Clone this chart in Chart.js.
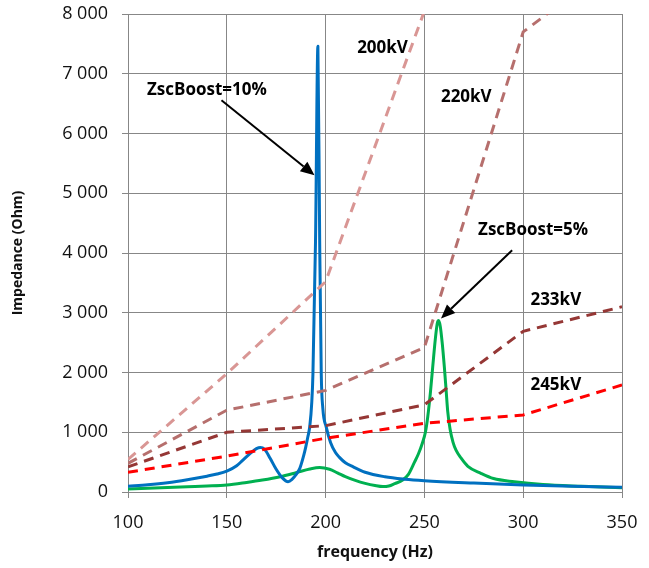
<!DOCTYPE html>
<html>
<head>
<meta charset="utf-8">
<script src="https://cdn.jsdelivr.net/npm/chart.js@4.4.1/dist/chart.umd.min.js"></script>
<style>
  html, body { margin: 0; padding: 0; background: #fff; }
  #wrap { width: 649px; height: 568px; }
</style>
</head>
<body>
<div id="wrap"><canvas id="impChart" width="649" height="568"></canvas></div>
<script>
// Frequency scan: impedance vs frequency

// ZscBoost=10% curve
const blueFreq = [100, 110, 120, 130, 140, 145, 150, 155, 158, 162, 165, 167, 169, 172, 175, 178, 181, 183, 185, 187, 189, 190, 191, 192, 193, 193.6, 194.9, 196.1, 197, 197.8, 198.6, 200.3, 202.5, 205, 207, 210, 214, 220, 230, 240, 250, 275, 300, 325, 350];
const blueImp = [95, 120, 155, 205, 265, 300, 350, 440, 530, 650, 725, 745, 720, 560, 380, 240, 172, 210, 290, 400, 620, 760, 920, 1100, 1500, 1985, 4200, 7460, 4210, 1985, 1400, 1090, 830, 660, 580, 490, 420, 330, 255, 215, 190, 150, 117, 95, 80];

// ZscBoost=5% curve
const greenFreq = [100, 110, 120, 130, 140, 150, 160, 168, 177, 185, 192, 197, 202, 206, 210, 215, 220, 225, 229, 232, 235, 239, 242, 245, 247, 249, 250.5, 251.7, 253, 254.2, 255.5, 256.5, 257.2, 258, 259, 260.1, 261, 261.8, 263, 264.5, 266, 268.5, 272, 278.6, 285, 295.5, 310, 330, 350];
const greenImp = [50, 62, 75, 88, 100, 117, 160, 200, 256, 323, 385, 410, 380, 320, 256, 195, 145, 108, 90, 100, 140, 200, 300, 500, 640, 820, 1000, 1260, 1650, 2090, 2550, 2820, 2870, 2780, 2500, 2090, 1700, 1350, 1050, 830, 700, 570, 430, 313, 225, 172, 125, 95, 70];

// voltage level lines (every 50 Hz)
const kvFreq = [100, 150, 200, 250, 300, 350];
const kv200 = [545, 1980, 3520, 8050];
const kv220 = [480, 1370, 1700, 2420, 7700, 8950];
const kv233 = [420, 1000, 1110, 1460, 2690, 3100];
const kv245 = [330, 600, 900, 1150, 1290, 1790];

const yTicks = [0, 1000, 2000, 3000, 4000, 5000, 6000, 7000, 8000];

function toPoints(xs, ys) {
    return ys.map((y, i) => ({ x: xs[i], y: y }));
}

function fmtThousands(v) {
    return String(v).replace(/\B(?=(\d{3})+(?!\d))/g, ' ');
}

const GRID = '#878787';
const LABEL_FONT = 'bold 17px "Open Sans", sans-serif';

// text labels + arrows, placed in data coordinates
const notes = [
    { text: '200kV', x: 228.8, y: 7420 },
    { text: '220kV', x: 271.2, y: 6600 },
    { text: '233kV', x: 316.5, y: 3210 },
    { text: '245kV', x: 316.5, y: 1790 },
    { text: 'ZscBoost=10%', x: 139.9, y: 6720 },
    { text: 'ZscBoost=5%', x: 305, y: 4380 }
];
const arrows = [
    { x0: 147.3, y0: 6555, x1: 194.4, y1: 5300 },
    { x0: 294.4, y0: 4047, x1: 258.4, y1: 2905 }
];

const notesPlugin = {
    id: 'notes',
    afterDatasetsDraw(chart) {
        const { ctx, scales: { x, y } } = chart;
        ctx.save();
        ctx.fillStyle = '#000';
        ctx.strokeStyle = '#000';
        ctx.font = LABEL_FONT;
        ctx.textAlign = 'center';
        ctx.textBaseline = 'middle';
        notes.forEach(n => {
            ctx.fillText(n.text, x.getPixelForValue(n.x), y.getPixelForValue(n.y));
        });
        arrows.forEach(a => {
            const px0 = x.getPixelForValue(a.x0), py0 = y.getPixelForValue(a.y0);
            const px1 = x.getPixelForValue(a.x1), py1 = y.getPixelForValue(a.y1);
            const ang = Math.atan2(py1 - py0, px1 - px0);
            const headLen = 14, headW = 6;
            const bx = px1 - headLen * Math.cos(ang), by = py1 - headLen * Math.sin(ang);
            ctx.lineWidth = 2;
            ctx.beginPath();
            ctx.moveTo(px0, py0);
            ctx.lineTo(bx, by);
            ctx.stroke();
            ctx.beginPath();
            ctx.moveTo(px1, py1);
            ctx.lineTo(bx + headW * Math.sin(ang), by - headW * Math.cos(ang));
            ctx.lineTo(bx - headW * Math.sin(ang), by + headW * Math.cos(ang));
            ctx.closePath();
            ctx.fill();
        });
        ctx.restore();
    }
};

function dashed(label, data, color) {
    return {
        label: label,
        data: toPoints(kvFreq, data),
        borderColor: color,
        borderWidth: 3,
        borderDash: [10, 7],
        pointRadius: 0,
        tension: 0,
        fill: false
    };
}

function curve(label, xs, ys, color) {
    return {
        label: label,
        data: toPoints(xs, ys),
        borderColor: color,
        borderWidth: 3,
        borderJoinStyle: 'round',
        cubicInterpolationMode: 'monotone',
        pointRadius: 0,
        fill: false
    };
}

new Chart(document.getElementById('impChart'), {
    type: 'line',
    data: {
        datasets: [
            dashed('200kV', kv200, '#D99694'),
            dashed('220kV', kv220, '#B66F6D'),
            dashed('233kV', kv233, '#953735'),
            dashed('245kV', kv245, '#FF0000'),
            curve('ZscBoost=10%', blueFreq, blueImp, '#0070C0'),
            curve('ZscBoost=5%', greenFreq, greenImp, '#00B050')
        ]
    },
    options: {
        responsive: false,
        animation: false,
        layout: { padding: { left: 0, right: 27, top: 14, bottom: 0 } },
        plugins: {
            legend: { display: false },
            tooltip: { enabled: false }
        },
        scales: {
            x: {
                type: 'linear',
                min: 100,
                max: 350,
                afterFit: (s) => { s.height = 76; s.paddingLeft = 0; s.paddingRight = 0; },
                grid: { color: GRID, tickLength: 6, tickColor: GRID },
                border: { color: GRID },
                ticks: {
                    stepSize: 50,
                    color: '#111',
                    padding: 14,
                    font: { family: '"Open Sans", sans-serif', size: 18 }
                },
                title: {
                    display: true,
                    text: 'frequency (Hz)',
                    color: '#111',
                    font: { family: '"Open Sans", sans-serif', size: 16, weight: 'bold' },
                    padding: { top: 0, bottom: 6 }
                }
            },
            y: {
                min: 0,
                max: 8000,
                afterFit: (s) => { s.width = 128; s.paddingTop = 0; s.paddingBottom = 0; },
                afterBuildTicks: (s) => { s.ticks = yTicks.map(v => ({ value: v })); },
                grid: { color: GRID, tickLength: 6, tickColor: GRID },
                border: { color: GRID },
                ticks: {
                    color: '#111',
                    padding: 14,
                    font: { family: '"Open Sans", sans-serif', size: 18 },
                    callback: (v) => fmtThousands(v)
                },
                title: {
                    display: true,
                    text: 'Impedance (Ohm)',
                    color: '#111',
                    font: { family: '"Open Sans", sans-serif', size: 14, weight: 'bold' },
                    padding: { top: 10, bottom: 0 }
                }
            }
        }
    },
    plugins: [notesPlugin]
});
</script>
</body>
</html>
